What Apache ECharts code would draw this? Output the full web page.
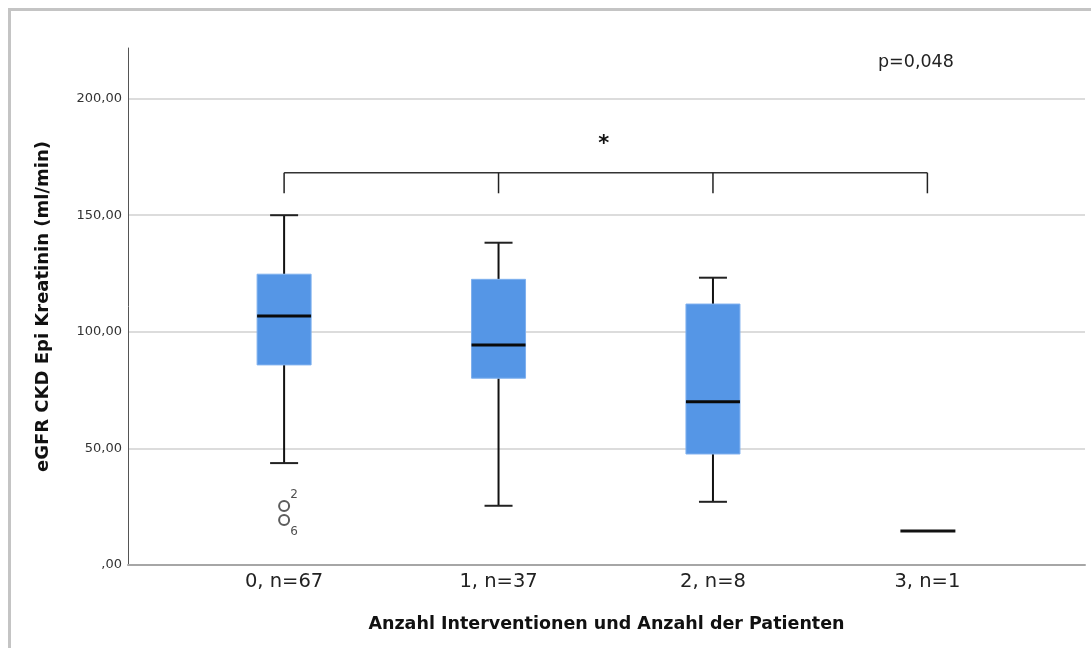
<!DOCTYPE html>
<html>
<head>
<meta charset="utf-8">
<script src="https://cdn.jsdelivr.net/npm/echarts@6/dist/echarts.min.js"></script>
<style>
  html, body { margin: 0; padding: 0; background: #fff; }
  #frame { position: absolute; left: 8px; top: 8px; width: 1100px; height: 700px;
           border-left: 3px solid #c4c4c4; border-top: 3px solid #c4c4c4; pointer-events: none; }
  #chart { width: 1091px; height: 648px; }
</style>
</head>
<body>
<div id="chart"></div>
<div id="frame"></div>
<script>
// Groups: number of interventions and patient count
const categories = ['0, n=67', '1, n=37', '2, n=8', '3, n=1'];
// Five-number summaries per group: [lower whisker, Q1, median, Q3, upper whisker]
const lowerWhisker = [43.7, 25.4, 27.1, 14.6];
const q1Values     = [85.8, 80.1, 47.6, 14.6];
const medians      = [106.8, 94.3, 70.0, 14.6];
const q3Values     = [124.7, 122.5, 111.9, 14.6];
const upperWhisker = [150.0, 138.2, 123.2, 14.6];
// Outliers: [group, value, case id]
const outlierGroups = [0, 0];
const outlierValues = [25.3, 19.3];
const outlierIds    = ['2', '6'];
// Significance bracket across all groups
const bracketGroups = [0, 1, 2, 3];
const bracketTop = 168.2;
const bracketTickEnd = 159.4;
const significanceMark = '*';
const pValueText = 'p=0,048';
const yTickValues = [0, 50, 100, 150, 200];

const boxData = categories.map((c, i) => [i, lowerWhisker[i], q1Values[i], medians[i], q3Values[i], upperWhisker[i]]);
const outlierData = outlierGroups.map((g, i) => ({ value: [g, outlierValues[i]], id: outlierIds[i] }));

const chart = echarts.init(document.getElementById('chart'), null, { renderer: 'canvas' });

const fmt = v => {
  const s = v.toFixed(2).replace('.', ',');
  return s.startsWith('0,') ? s.slice(1) : s;
};

function renderBox(params, api) {
  const x = api.value(0);
  const lo = api.coord([x, api.value(1)]);
  const q1 = api.coord([x, api.value(2)]);
  const med = api.coord([x, api.value(3)]);
  const q3 = api.coord([x, api.value(4)]);
  const hi = api.coord([x, api.value(5)]);
  const cx = med[0];
  const boxW = 54, capW = 28;
  const black = { stroke: '#111', lineWidth: 2 };
  if (api.value(1) === api.value(5)) {
    // single observation: just the median line
    return { type: 'line', shape: { x1: cx - 27, y1: med[1], x2: cx + 28, y2: med[1] },
             style: { stroke: '#111', lineWidth: 3 } };
  }
  return {
    type: 'group',
    children: [
      { type: 'line', shape: { x1: cx, y1: hi[1], x2: cx, y2: q3[1] }, style: black },
      { type: 'line', shape: { x1: cx, y1: q1[1], x2: cx, y2: lo[1] }, style: black },
      { type: 'line', shape: { x1: cx - capW / 2, y1: hi[1], x2: cx + capW / 2, y2: hi[1] }, style: { stroke: '#222', lineWidth: 2 } },
      { type: 'line', shape: { x1: cx - capW / 2, y1: lo[1], x2: cx + capW / 2, y2: lo[1] }, style: { stroke: '#222', lineWidth: 2 } },
      { type: 'rect', shape: { x: cx - boxW / 2, y: q3[1], width: boxW, height: q1[1] - q3[1] },
        style: { fill: '#5596e6', stroke: '#7fb0ee', lineWidth: 1 } },
      { type: 'line', shape: { x1: cx - boxW / 2, y1: med[1], x2: cx + boxW / 2, y2: med[1] }, style: { stroke: '#0a0a0a', lineWidth: 3 } }
    ]
  };
}

function renderBracket(params, api) {
  if (params.dataIndex !== 0) return null;
  const first = api.coord([bracketGroups[0], bracketTop]);
  const last = api.coord([bracketGroups[bracketGroups.length - 1], bracketTop]);
  const children = [
    { type: 'line', shape: { x1: first[0], y1: first[1], x2: last[0], y2: last[1] }, style: { stroke: '#333', lineWidth: 1.5 } }
  ];
  bracketGroups.forEach(g => {
    const top = api.coord([g, bracketTop]);
    const end = api.coord([g, bracketTickEnd]);
    children.push({ type: 'line', shape: { x1: top[0], y1: top[1], x2: end[0], y2: end[1] }, style: { stroke: '#222', lineWidth: 1.5 } });
  });
  const mid = (bracketGroups[0] + bracketGroups[bracketGroups.length - 1]) / 2;
  const star = api.coord([mid, bracketTop + 12]);
  children.push({ type: 'text', style: { x: star[0] - 2, y: star[1], text: significanceMark, fill: '#111',
    font: 'bold 21px "DejaVu Sans"', align: 'center', verticalAlign: 'middle' } });
  return { type: 'group', children };
}

chart.setOption({
  animation: false,
  grid: { left: 128, right: 6, top: 48, bottom: 83 },
  xAxis: {
    type: 'value', min: -0.728, max: 3.735,
    name: 'Anzahl Interventionen und Anzahl der Patienten',
    nameLocation: 'middle', nameGap: 50,
    nameTextStyle: { fontFamily: 'DejaVu Sans', fontWeight: 'bold', fontSize: 17.5, color: '#111' },
    axisLine: { show: true, onZero: false, lineStyle: { color: '#a6a6a6', width: 2 } },
    axisTick: { show: false },
    splitLine: { show: false },
    axisLabel: {
      customValues: [0, 1, 2, 3],
      formatter: v => categories[Math.round(v)],
      fontFamily: 'DejaVu Sans', fontSize: 19.5, color: '#222', margin: 7
    }
  },
  yAxis: {
    type: 'value', min: 0, max: 221.7, interval: 50,
    name: 'eGFR CKD Epi Kreatinin (ml/min)',
    nameLocation: 'middle', nameGap: 76,
    nameTextStyle: { fontFamily: 'DejaVu Sans', fontWeight: 'bold', fontSize: 18, color: '#111' },
    axisLine: { show: true, onZero: false, lineStyle: { color: '#555', width: 1 } },
    axisTick: { show: false },
    axisLabel: {
      customValues: yTickValues,
      formatter: v => fmt(v),
      fontFamily: 'DejaVu Sans', fontSize: 13, color: '#333', margin: 6
    },
    splitLine: { show: true, showMinLine: false, showMaxLine: false, lineStyle: { color: '#d0d0d0', width: 1.5 } }
  },
  graphic: [
    { type: 'text', left: 878, top: 53, style: { text: pValueText, fill: '#222', font: '17.5px "DejaVu Sans"' } }
  ],
  series: [
    { type: 'custom', name: 'boxes', data: boxData, renderItem: renderBox, encode: { x: 0, y: [1, 2, 3, 4, 5] }, z: 3 },
    { type: 'custom', name: 'bracket', data: bracketGroups.map(g => [g, bracketTop]), renderItem: renderBracket, z: 3 },
    {
      type: 'scatter', name: 'outliers', data: outlierData,
      symbol: 'emptyCircle', symbolSize: 10,
      itemStyle: { color: '#333', borderColor: '#333', borderWidth: 1 },
      label: {
        show: true,
        formatter: p => p.data.id,
        fontFamily: 'DejaVu Sans', fontSize: 12, color: '#222'
      },
      labelLayout: p => ({ dx: 10, dy: p.dataIndex === 0 ? -11 : 12 }),
      z: 4
    }
  ]
});
</script>
</body>
</html>
